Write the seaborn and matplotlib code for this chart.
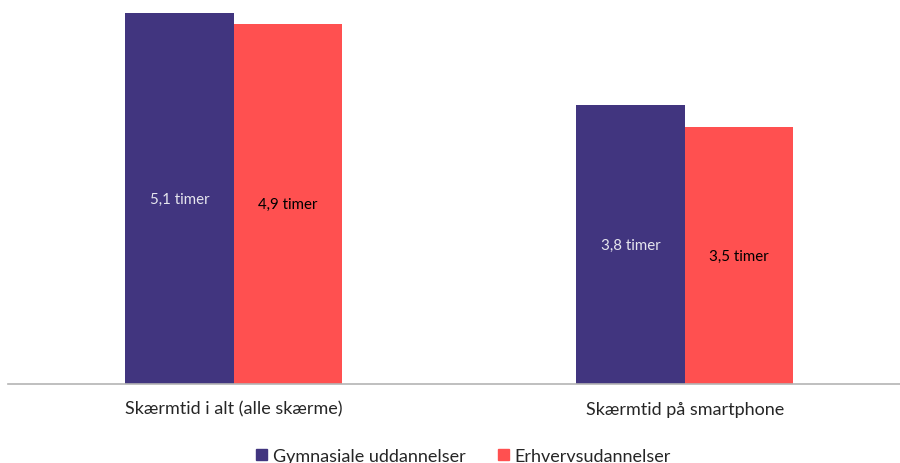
import pandas as pd
import matplotlib
matplotlib.use('Agg')
import matplotlib.pyplot as plt
from matplotlib.patches import Patch
import seaborn as sns

categories = ['Skærmtid i alt (alle skærme)', 'Skærmtid på smartphone']
groups = ['Gymnasiale uddannelser', 'Erhvervsudannelser']
gym_values = [5.05, 3.8]
erh_values = [4.9, 3.5]
gym_labels = ['5,1 timer', '3,8 timer']
erh_labels = ['4,9 timer', '3,5 timer']

COLOR_GYM = '#41357F'
COLOR_ERH = '#FF5050'

sns.set_style('white')
plt.rcParams['font.family'] = ['Lato', 'DejaVu Sans']

df = pd.DataFrame({
    'Kategori': categories * 2,
    'Gruppe': [groups[0]] * 2 + [groups[1]] * 2,
    'Timer': gym_values + erh_values,
})

fig = plt.figure(figsize=(9, 4.64), dpi=100)
ax = fig.add_axes([8 / 900, 1 - 385 / 464, 892 / 900, 385 / 464])
sns.barplot(data=df, x='Kategori', y='Timer', hue='Gruppe', hue_order=groups,
            palette=[COLOR_GYM, COLOR_ERH], width=0.48, saturation=1,
            legend=False, ax=ax, edgecolor='none')

ax.bar_label(ax.containers[0], labels=gym_labels, label_type='center',
             color='#E6E6EE', fontsize=10.8)
ax.bar_label(ax.containers[1], labels=erh_labels, label_type='center',
             color='black', fontsize=10.8)

ax.set_ylim(0, 5.24)
ax.set_xlim(-0.5, 1.477)
ax.set_xlabel('')
ax.set_ylabel('')
ax.set_yticks([])
ax.tick_params(axis='x', length=0, pad=12, labelsize=13)
for side in ['top', 'left', 'right']:
    ax.spines[side].set_visible(False)
ax.spines['bottom'].set_color('#B4B4B4')
ax.spines['bottom'].set_linewidth(1.2)

handles = [Patch(color=COLOR_GYM, label=groups[0]),
           Patch(color=COLOR_ERH, label=groups[1])]
fig.legend(handles=handles, loc='lower center', bbox_to_anchor=(0.515, -0.037),
           ncol=2, frameon=False, fontsize=13, handlelength=0.6,
           handleheight=0.6, handletextpad=0.3, columnspacing=1.8)

fig.savefig('out.png', dpi=100)
